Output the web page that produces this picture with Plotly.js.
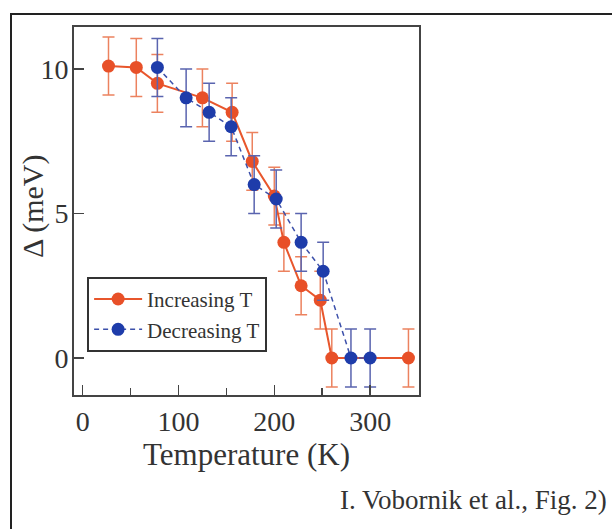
<!DOCTYPE html>
<html>
<head>
<meta charset="utf-8">
<script src="https://cdn.plot.ly/plotly-3.0.1.min.js"></script>
<style>
  html, body { margin: 0; padding: 0; background: #fff; }
  #frame { position: absolute; left: 10px; top: 13px; width: 620px; height: 540px;
           border-left: 2px solid #222; border-top: 2px solid #222; }
  #plot { position: absolute; left: 0; top: 0; width: 612px; height: 529px; }
</style>
</head>
<body>
<div id="frame"></div>
<div id="plot"></div>
<script>
// Increasing T series
const incT     = [27, 56, 78, 125, 156, 177, 200, 210, 228, 248, 260, 340];
const incDelta = [10.1, 10.05, 9.5, 9.0, 8.5, 6.8, 5.6, 4.0, 2.5, 2.0, 0, 0];
const incErr   = [1, 1, 1, 1, 1, 1, 1, 1, 1, 1, 1, 1];
// Decreasing T series
const decT     = [78, 108, 132, 155, 179, 202, 228, 251, 280, 300];
const decDelta = [10.05, 9.0, 8.5, 8.0, 6.0, 5.5, 4.0, 3.0, 0, 0];
const decErr   = [1, 1, 1, 1, 1, 1, 1, 1, 1, 1];

const seriesNames = ['Increasing T', 'Decreasing T'];
const xTickVals = [0, 100, 200, 300];
const yTickVals = [0, 5, 10];
const xTitle = 'Temperature (K)';
const yTitle = 'Δ (meV)';
const caption = 'I. Vobornik et al., Fig. 2)';

const serif = 'Liberation Serif, Times New Roman, serif';
const txt = '#333';

const traces = [
  {
    x: incT, y: incDelta, name: seriesNames[0], type: 'scatter', mode: 'lines+markers',
    line: {color: 'rgb(232,86,44)', width: 2},
    marker: {color: 'rgb(232,80,40)', size: 13},
    error_y: {type: 'data', array: incErr, visible: true, color: 'rgb(236,130,95)', thickness: 1.5, width: 6}
  },
  {
    x: decT, y: decDelta, name: seriesNames[1], type: 'scatter', mode: 'lines+markers',
    line: {color: 'rgb(60,80,170)', width: 1.5, dash: '5px,4px'},
    marker: {color: 'rgb(30,60,170)', size: 13},
    error_y: {type: 'data', array: decErr, visible: true, color: 'rgb(90,100,175)', thickness: 1.5, width: 6}
  }
];

const layout = {
  width: 612, height: 529,
  margin: {l: 74, r: 193, t: 27, b: 134},
  paper_bgcolor: 'rgba(0,0,0,0)',
  plot_bgcolor: '#fff',
  font: {family: serif, color: txt},
  showlegend: true,
  legend: {
    x: 0.038, y: 0.321, xanchor: 'left', yanchor: 'top',
    bordercolor: '#333', borderwidth: 2, bgcolor: '#fff',
    font: {family: serif, size: 21, color: txt},
    itemwidth: 48,
    tracegroupgap: 0
  },
  xaxis: {
    range: [-9, 351], showgrid: false, zeroline: false,
    showline: true, linecolor: '#444', linewidth: 2, mirror: true,
    ticks: 'inside', ticklen: 10, tickwidth: 1.5, tickcolor: '#444',
    tickvals: xTickVals,
    minor: {tickvals: [50, 150, 250], ticks: 'inside', ticklen: 7, tickwidth: 1.5, tickcolor: '#444'},
    tickfont: {family: serif, size: 28, color: txt},
    ticklabelstandoff: 0,
    title: {text: xTitle, font: {family: serif, size: 31, color: txt}, standoff: 2}
  },
  yaxis: {
    range: [-1.28, 11.45], showgrid: false, zeroline: false,
    showline: true, linecolor: '#444', linewidth: 2, mirror: true,
    ticks: 'inside', ticklen: 10, tickwidth: 1.5, tickcolor: '#444',
    tickvals: yTickVals,
    tickfont: {family: serif, size: 28, color: txt},
    ticklabelstandoff: -2
  },
  annotations: [
    {
      xref: 'paper', yref: 'paper', x: (33 - 74) / 345, y: (395 - 207) / 368,
      xanchor: 'center', yanchor: 'middle', textangle: -90, showarrow: false,
      text: yTitle, font: {family: serif, size: 30, color: txt}
    },
    {
      xref: 'paper', yref: 'paper', x: (609 - 74) / 345, y: -(500 - 395) / 368,
      xanchor: 'right', yanchor: 'middle', showarrow: false,
      text: caption, font: {family: serif, size: 27, color: txt}
    }
  ]
};

Plotly.newPlot('plot', traces, layout, {displayModeBar: false, staticPlot: true});
</script>
</body>
</html>
